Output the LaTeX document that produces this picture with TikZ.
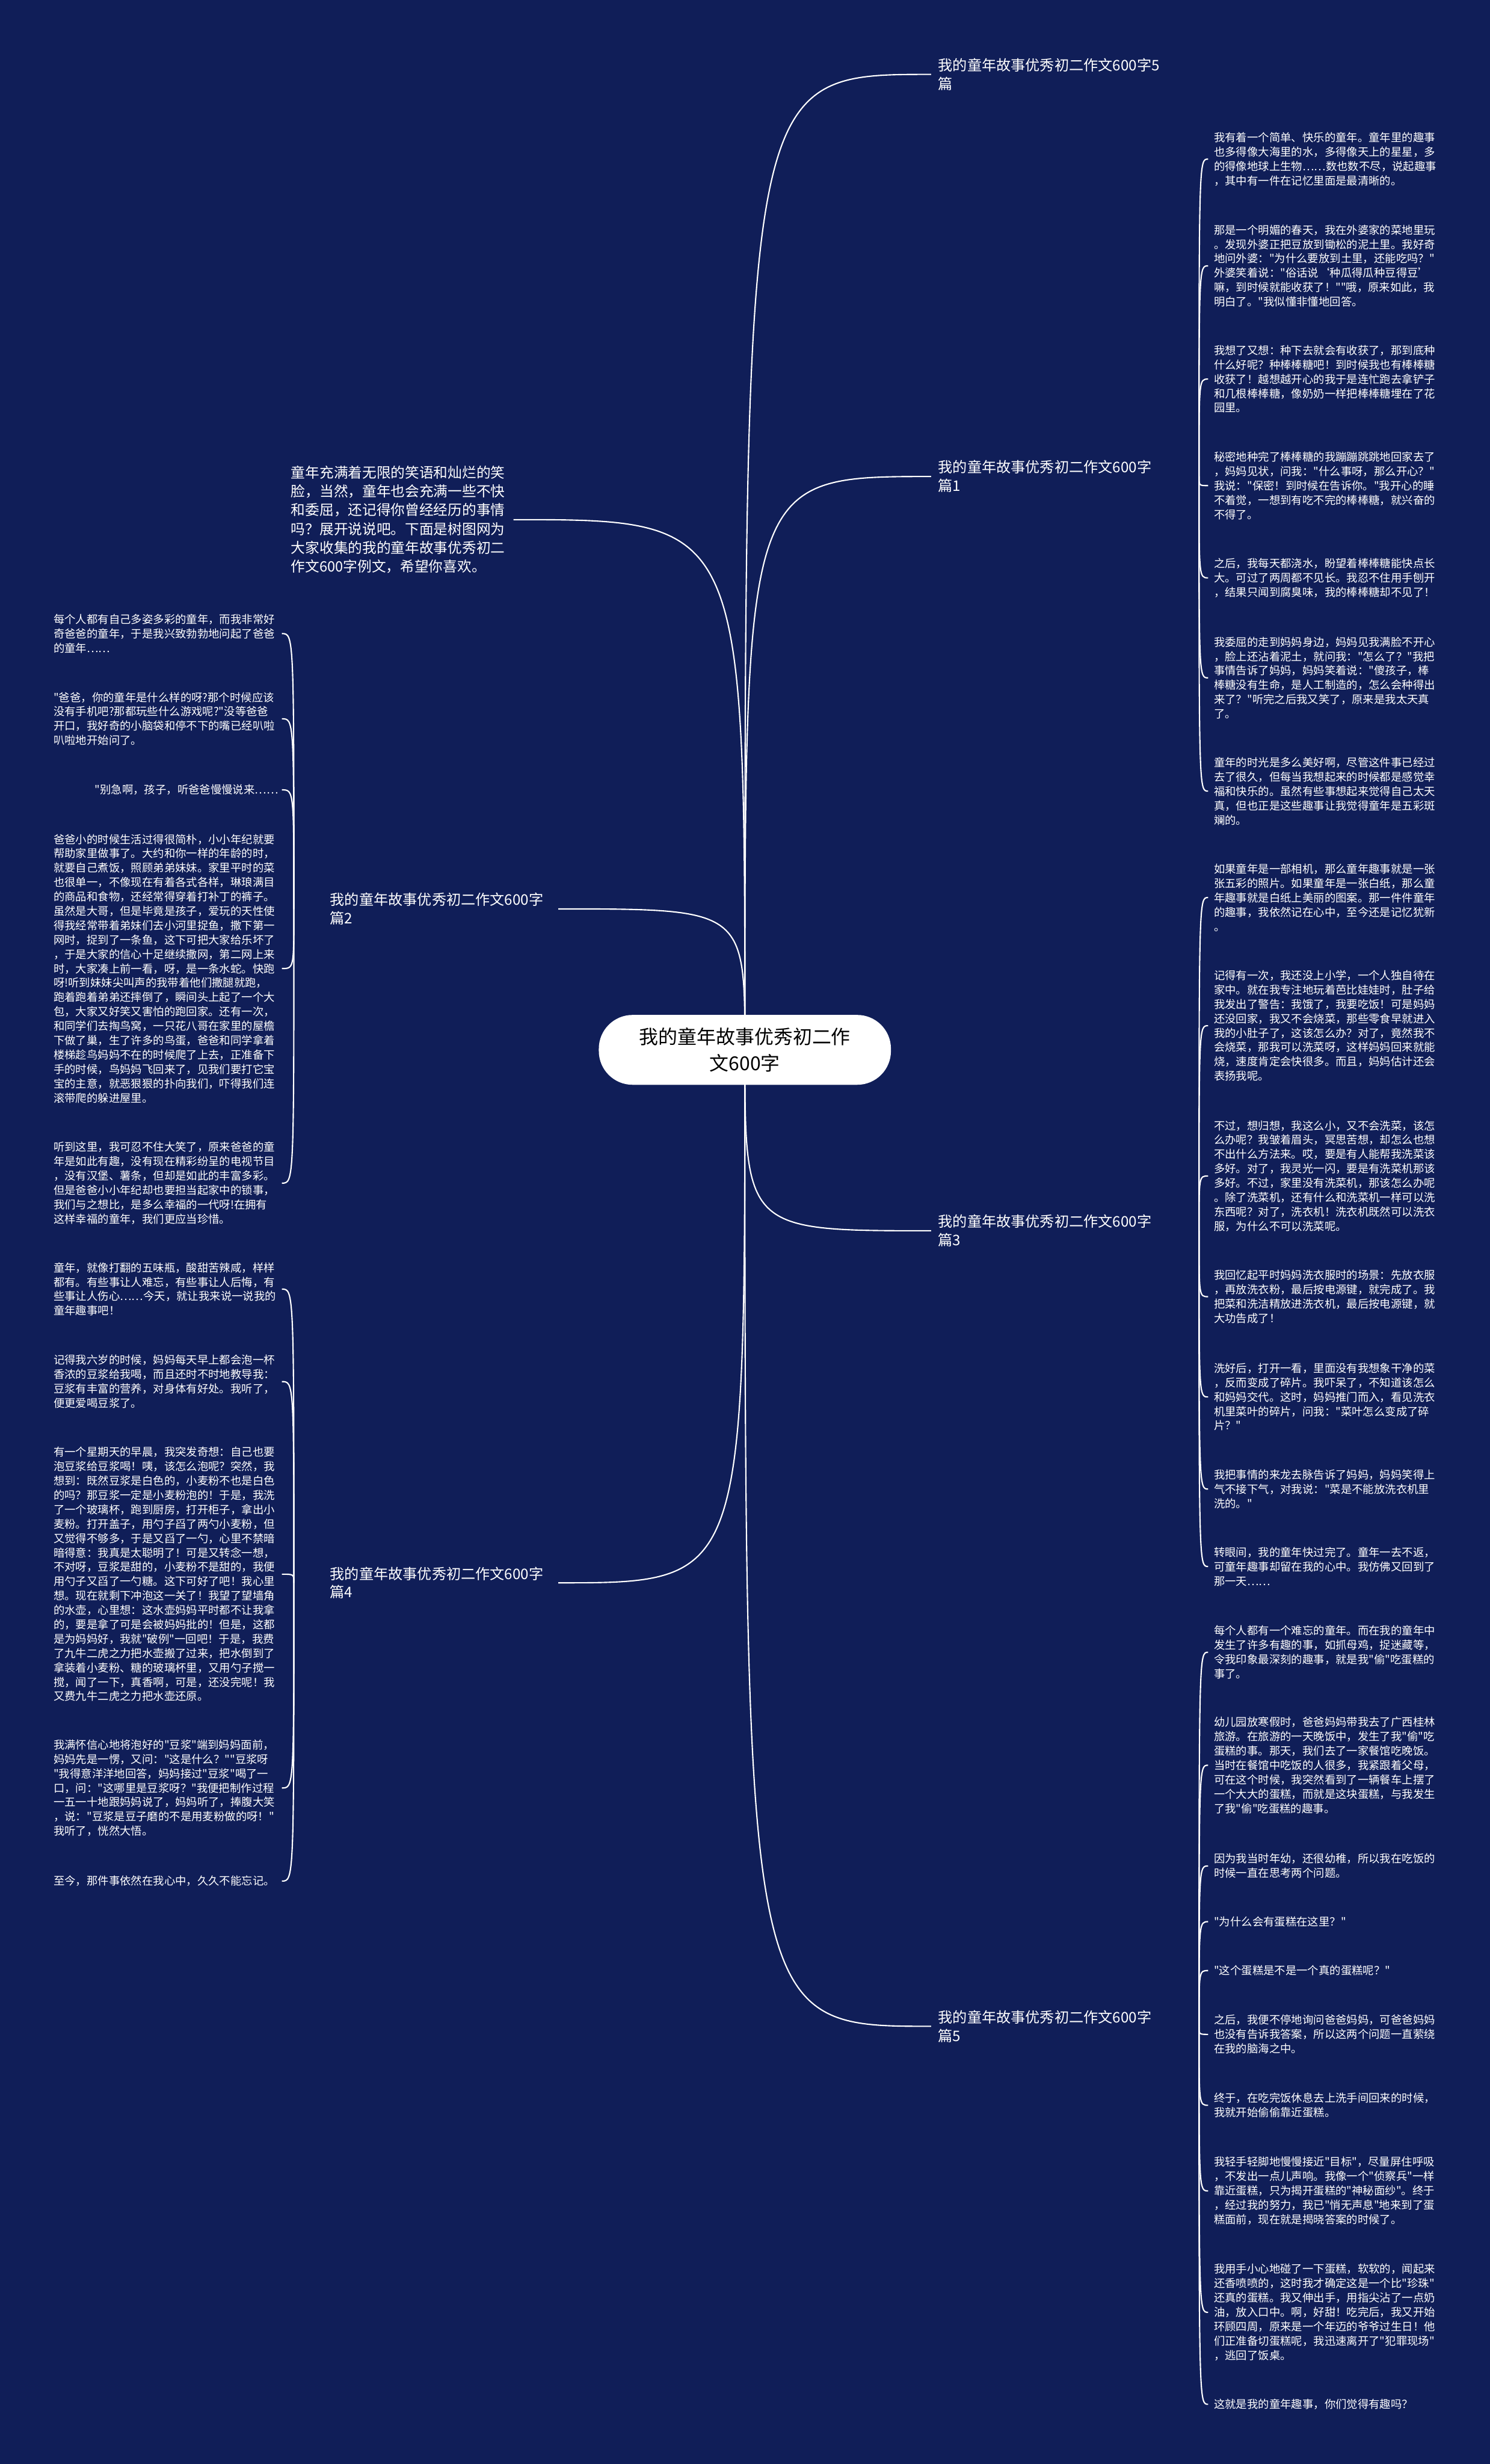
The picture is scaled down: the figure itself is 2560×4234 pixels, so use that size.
\documentclass[tikz,border=0pt]{standalone}
\usepackage{fontspec}
\setmainfont{Noto Sans CJK SC}[Ligatures=TeXOff]
\usetikzlibrary{calc}
\definecolor{bgblue}{RGB}{16,30,88}
\pgfdeclarelayer{back}
\pgfdeclarelayer{mid}
\pgfsetlayers{back,mid,main}
\begin{document}
\begin{tikzpicture}[x=1pt,y=-1pt,
 conn/.style={draw=white,line width=2.2pt},
 rpara/.style={text=white,align=left,text width=380pt,inner xsep=10pt,inner ysep=0pt,anchor=north west,font=\fontsize{19}{24.7}\selectfont},
 lpara/.style={rpara,text width=386pt,inner xsep=6pt},
 rlab/.style={text=white,align=left,text width=436pt,inner xsep=12pt,inner ysep=0pt,anchor=north west,font=\fontsize{25}{32}\selectfont},
 llab/.style={rlab,text width=380pt},
 ctrbox/.style={fill=white,text=black,rounded corners=58pt,minimum width=502pt,minimum height=120pt,align=center,font=\fontsize{33}{45}\selectfont},
 introbox/.style={text=white,align=left,text width=372pt,inner xsep=10pt,inner ysep=0pt,anchor=north west,font=\fontsize{24.5}{32.4}\selectfont}
]
\begin{pgfonlayer}{back}
\fill[bgblue] (0,0) rectangle (2560,4234);
\end{pgfonlayer}
\useasboundingbox (0,0) rectangle (2560,4234);

% center
\node[ctrbox] (ctr) at (1280,1804) {我的童年故事优秀初二作\\文600字};

% intro
\node[introbox] (intro) at (490,800) {童年充满着无限的笑语和灿烂的笑\\脸，当然，童年也会充满一些不快\\和委屈，还记得你曾经经历的事情\\吗？展开说说吧。下面是树图网为\\大家收集的我的童年故事优秀初二\\作文600字例文，希望你喜欢。};

% branch labels
\node[rlab] (t5) at (1600,100) {我的童年故事优秀初二作文600字5\\篇};
\node[rlab] (b1) at (1600,791) {我的童年故事优秀初二作文600字\\篇1};
\node[rlab] (b3) at (1600,2087) {我的童年故事优秀初二作文600字\\篇3};
\node[rlab] (b5) at (1600,3454) {我的童年故事优秀初二作文600字\\篇5};
\node[llab] (b2) at (555,1534) {我的童年故事优秀初二作文600字\\篇2};
\node[llab] (b4) at (555,2692) {我的童年故事优秀初二作文600字\\篇4};
\coordinate (j2) at ($(b2.west)+(-50,0)$);
\coordinate (j4) at ($(b4.west)+(-50,0)$);

% branch 1
\node[rpara] (r1a) at (2076,227) {我有着一个简单、快乐的童年。童年里的趣事\\也多得像大海里的水，多得像天上的星星，多\\的得像地球上生物……数也数不尽，说起趣事\\，其中有一件在记忆里面是最清晰的。};
\node[rpara] (r1b) at (2076,386) {那是一个明媚的春天，我在外婆家的菜地里玩\\。发现外婆正把豆放到锄松的泥土里。我好奇\\地问外婆："为什么要放到土里，还能吃吗？"\\外婆笑着说："俗话说‘种瓜得瓜种豆得豆’\\嘛，到时候就能收获了！""哦，原来如此，我\\明白了。"我似懂非懂地回答。};
\node[rpara] (r1c) at (2076,593) {我想了又想：种下去就会有收获了，那到底种\\什么好呢？种棒棒糖吧！到时候我也有棒棒糖\\收获了！越想越开心的我于是连忙跑去拿铲子\\和几根棒棒糖，像奶奶一样把棒棒糖埋在了花\\园里。};
\node[rpara] (r1d) at (2076,776) {秘密地种完了棒棒糖的我蹦蹦跳跳地回家去了\\，妈妈见状，问我："什么事呀，那么开心？"\\我说："保密！到时候在告诉你。"我开心的睡\\不着觉，一想到有吃不完的棒棒糖，就兴奋的\\不得了。};
\node[rpara] (r1e) at (2076,959) {之后，我每天都浇水，盼望着棒棒糖能快点长\\大。可过了两周都不见长。我忍不住用手刨开\\，结果只闻到腐臭味，我的棒棒糖却不见了！};
\node[rpara] (r1f) at (2076,1094) {我委屈的走到妈妈身边，妈妈见我满脸不开心\\，脸上还沾着泥土，就问我："怎么了？"我把\\事情告诉了妈妈，妈妈笑着说："傻孩子，棒\\棒糖没有生命，是人工制造的，怎么会种得出\\来了？"听完之后我又笑了，原来是我太天真\\了。};
\node[rpara] (r1g) at (2076,1301) {童年的时光是多么美好啊，尽管这件事已经过\\去了很久，但每当我想起来的时候都是感觉幸\\福和快乐的。虽然有些事想起来觉得自己太天\\真，但也正是这些趣事让我觉得童年是五彩斑\\斓的。};

% branch 3
\node[rpara] (r3a) at (2076,1484) {如果童年是一部相机，那么童年趣事就是一张\\张五彩的照片。如果童年是一张白纸，那么童\\年趣事就是白纸上美丽的图案。那一件件童年\\的趣事，我依然记在心中，至今还是记忆犹新\\。};
\node[rpara] (r3b) at (2076,1667) {记得有一次，我还没上小学，一个人独自待在\\家中。就在我专注地玩着芭比娃娃时，肚子给\\我发出了警告：我饿了，我要吃饭！可是妈妈\\还没回家，我又不会烧菜，那些零食早就进入\\我的小肚子了，这该怎么办？对了，竟然我不\\会烧菜，那我可以洗菜呀，这样妈妈回来就能\\烧，速度肯定会快很多。而且，妈妈估计还会\\表扬我呢。};
\node[rpara] (r3c) at (2076,1925) {不过，想归想，我这么小，又不会洗菜，该怎\\么办呢？我皱着眉头，冥思苦想，却怎么也想\\不出什么方法来。哎，要是有人能帮我洗菜该\\多好。对了，我灵光一闪，要是有洗菜机那该\\多好。不过，家里没有洗菜机，那该怎么办呢\\。除了洗菜机，还有什么和洗菜机一样可以洗\\东西呢？对了，洗衣机！洗衣机既然可以洗衣\\服，为什么不可以洗菜呢。};
\node[rpara] (r3d) at (2076,2182) {我回忆起平时妈妈洗衣服时的场景：先放衣服\\，再放洗衣粉，最后按电源键，就完成了。我\\把菜和洗洁精放进洗衣机，最后按电源键，就\\大功告成了！};
\node[rpara] (r3e) at (2076,2342) {洗好后，打开一看，里面没有我想象干净的菜\\，反而变成了碎片。我吓呆了，不知道该怎么\\和妈妈交代。这时，妈妈推门而入，看见洗衣\\机里菜叶的碎片，问我："菜叶怎么变成了碎\\片？"};
\node[rpara] (r3f) at (2076,2525) {我把事情的来龙去脉告诉了妈妈，妈妈笑得上\\气不接下气，对我说："菜是不能放洗衣机里\\洗的。"};
\node[rpara] (r3g) at (2076,2658) {转眼间，我的童年快过完了。童年一去不返，\\可童年趣事却留在我的心中。我仿佛又回到了\\那一天……};

% branch 5
\node[rpara] (r5a) at (2076,2793) {每个人都有一个难忘的童年。而在我的童年中\\发生了许多有趣的事，如抓母鸡，捉迷藏等，\\令我印象最深刻的趣事，就是我"偷"吃蛋糕的\\事了。};
\node[rpara] (r5b) at (2076,2950) {幼儿园放寒假时，爸爸妈妈带我去了广西桂林\\旅游。在旅游的一天晚饭中，发生了我"偷"吃\\蛋糕的事。那天，我们去了一家餐馆吃晚饭。\\当时在餐馆中吃饭的人很多，我紧跟着父母，\\可在这个时候，我突然看到了一辆餐车上摆了\\一个大大的蛋糕，而就是这块蛋糕，与我发生\\了我"偷"吃蛋糕的趣事。};
\node[rpara] (r5c) at (2076,3185) {因为我当时年幼，还很幼稚，所以我在吃饭的\\时候一直在思考两个问题。};
\node[rpara] (r5d) at (2076,3293) {"为什么会有蛋糕在这里？"};
\node[rpara] (r5e) at (2076,3377) {"这个蛋糕是不是一个真的蛋糕呢？"};
\node[rpara] (r5f) at (2076,3462) {之后，我便不停地询问爸爸妈妈，可爸爸妈妈\\也没有告诉我答案，所以这两个问题一直萦绕\\在我的脑海之中。};
\node[rpara] (r5g) at (2076,3596) {终于，在吃完饭休息去上洗手间回来的时候，\\我就开始偷偷靠近蛋糕。};
\node[rpara] (r5h) at (2076,3706) {我轻手轻脚地慢慢接近"目标"，尽量屏住呼吸\\，不发出一点儿声响。我像一个"侦察兵"一样\\靠近蛋糕，只为揭开蛋糕的"神秘面纱"。终于\\，经过我的努力，我已"悄无声息"地来到了蛋\\糕面前，现在就是揭晓答案的时候了。};
\node[rpara] (r5i) at (2076,3890) {我用手小心地碰了一下蛋糕，软软的，闻起来\\还香喷喷的，这时我才确定这是一个比"珍珠"\\还真的蛋糕。我又伸出手，用指尖沾了一点奶\\油，放入口中。啊，好甜！吃完后，我又开始\\环顾四周，原来是一个年迈的爷爷过生日！他\\们正准备切蛋糕呢，我迅速离开了"犯罪现场"\\，逃回了饭桌。};
\node[rpara] (r5j) at (2076,4122) {这就是我的童年趣事，你们觉得有趣吗？};

% branch 2 (left)
\node[lpara] (l2a) at (86,1055) {每个人都有自己多姿多彩的童年，而我非常好\\奇爸爸的童年，于是我兴致勃勃地问起了爸爸\\的童年……};
\node[lpara] (l2b) at (86,1189) {"爸爸，你的童年是什么样的呀?那个时候应该\\没有手机吧?那都玩些什么游戏呢?"没等爸爸\\开口，我好奇的小脑袋和停不下的嘴已经叭啦\\叭啦地开始问了。};
\node[lpara,align=right] (l2c) at (86,1348) {"别急啊，孩子，听爸爸慢慢说来……};
\node[lpara] (l2d) at (86,1433) {爸爸小的时候生活过得很简朴，小小年纪就要\\帮助家里做事了。大约和你一样的年龄的时，\\就要自己煮饭，照顾弟弟妹妹。家里平时的菜\\也很单一，不像现在有着各式各样，琳琅满目\\的商品和食物，还经常得穿着打补丁的裤子。\\虽然是大哥，但是毕竟是孩子，爱玩的天性使\\得我经常带着弟妹们去小河里捉鱼，撒下第一\\网时，捉到了一条鱼，这下可把大家给乐坏了\\，于是大家的信心十足继续撒网，第二网上来\\时，大家凑上前一看，呀，是一条水蛇。快跑\\呀!听到妹妹尖叫声的我带着他们撒腿就跑，\\跑着跑着弟弟还摔倒了，瞬间头上起了一个大\\包，大家又好笑又害怕的跑回家。还有一次，\\和同学们去掏鸟窝，一只花八哥在家里的屋檐\\下做了巢，生了许多的鸟蛋，爸爸和同学拿着\\楼梯趁鸟妈妈不在的时候爬了上去，正准备下\\手的时候，鸟妈妈飞回来了，见我们要打它宝\\宝的主意，就恶狠狠的扑向我们，吓得我们连\\滚带爬的躲进屋里。};
\node[lpara] (l2e) at (86,1962) {听到这里，我可忍不住大笑了，原来爸爸的童\\年是如此有趣，没有现在精彩纷呈的电视节目\\，没有汉堡、薯条，但却是如此的丰富多彩。\\但是爸爸小小年纪却也要担当起家中的锁事，\\我们与之想比，是多么幸福的一代呀!在拥有\\这样幸福的童年，我们更应当珍惜。};

% branch 4 (left)
\node[lpara] (l4a) at (86,2169) {童年，就像打翻的五味瓶，酸甜苦辣咸，样样\\都有。有些事让人难忘，有些事让人后悔，有\\些事让人伤心……今天，就让我来说一说我的\\童年趣事吧！};
\node[lpara] (l4b) at (86,2328) {记得我六岁的时候，妈妈每天早上都会泡一杯\\香浓的豆浆给我喝，而且还时不时地教导我：\\豆浆有丰富的营养，对身体有好处。我听了，\\便更爱喝豆浆了。};
\node[lpara] (l4c) at (86,2486) {有一个星期天的早晨，我突发奇想：自己也要\\泡豆浆给豆浆喝！咦，该怎么泡呢？突然，我\\想到：既然豆浆是白色的，小麦粉不也是白色\\的吗？那豆浆一定是小麦粉泡的！于是，我洗\\了一个玻璃杯，跑到厨房，打开柜子，拿出小\\麦粉。打开盖子，用勺子舀了两勺小麦粉，但\\又觉得不够多，于是又舀了一勺，心里不禁暗\\暗得意：我真是太聪明了！可是又转念一想，\\不对呀，豆浆是甜的，小麦粉不是甜的，我便\\用勺子又舀了一勺糖。这下可好了吧！我心里\\想。现在就剩下冲泡这一关了！我望了望墙角\\的水壶，心里想：这水壶妈妈平时都不让我拿\\的，要是拿了可是会被妈妈批的！但是，这都\\是为妈妈好，我就"破例"一回吧！于是，我费\\了九牛二虎之力把水壶搬了过来，把水倒到了\\拿装着小麦粉、糖的玻璃杯里，又用勺子搅一\\搅，闻了一下，真香啊，可是，还没完呢！我\\又费九牛二虎之力把水壶还原。};
\node[lpara] (l4d) at (86,2989) {我满怀信心地将泡好的"豆浆"端到妈妈面前，\\妈妈先是一愣，又问："这是什么？""豆浆呀\\"我得意洋洋地回答，妈妈接过"豆浆"喝了一\\口，问："这哪里是豆浆呀？"我便把制作过程\\一五一十地跟妈妈说了，妈妈听了，捧腹大笑\\，说："豆浆是豆子磨的不是用麦粉做的呀！"\\我听了，恍然大悟。};
\node[lpara] (l4e) at (86,3223) {至今，那件事依然在我心中，久久不能忘记。};

\begin{pgfonlayer}{mid}
\foreach \t in {t5,b1,b3,b5}
  \draw[conn] (ctr.center) .. controls (ctr.center |- \t.west) .. (\t.west);
\foreach \t in {b2,b4,intro}
  \draw[conn] (ctr.center) .. controls (ctr.center |- \t.east) .. (\t.east);
\foreach \q in {r1a,r1b,r1c,r1d,r1e,r1f,r1g}
  \draw[conn] (b1.east) .. controls (b1.east |- \q.west) .. (\q.west);
\foreach \q in {r3a,r3b,r3c,r3d,r3e,r3f,r3g}
  \draw[conn] (b3.east) .. controls (b3.east |- \q.west) .. (\q.west);
\foreach \q in {r5a,r5b,r5c,r5d,r5e,r5f,r5g,r5h,r5i,r5j}
  \draw[conn] (b5.east) .. controls (b5.east |- \q.west) .. (\q.west);
\foreach \q in {l2a,l2b,l2c,l2d,l2e}
  \draw[conn] (j2) .. controls (j2 |- \q.east) .. (\q.east);
\foreach \q in {l4a,l4b,l4c,l4d,l4e}
  \draw[conn] (j4) .. controls (j4 |- \q.east) .. (\q.east);
\end{pgfonlayer}
\end{tikzpicture}
\end{document}
